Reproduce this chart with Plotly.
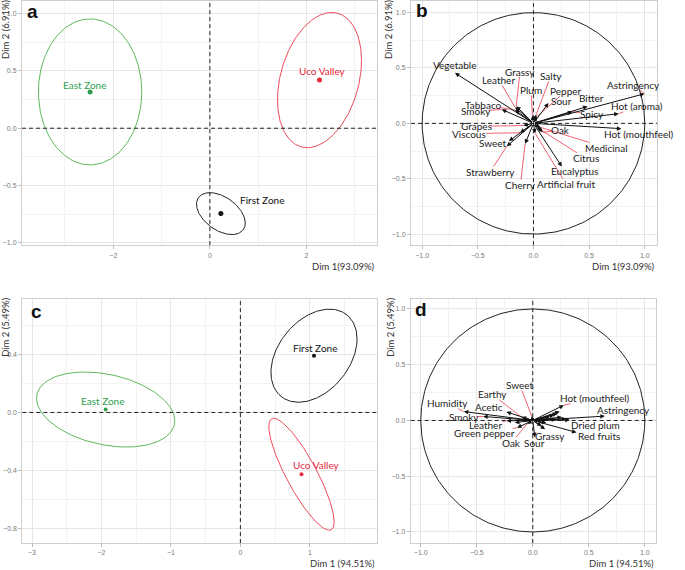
import numpy as np
import plotly.graph_objects as go

W, H = 685, 570

# ---------------- data ----------------
groups = ["East Zone", "Uco Valley", "First Zone"]
group_colors = ["#2e9e4f", "#e8283c", "#111111"]
ellipse_colors = ["#5cb85c", "#ec4b5a", "#222222"]

# panel a (individuals, sensory)
a_px = [-2.48, 2.27, 0.228]
a_py = [0.317, 0.42, -0.745]
a_rx = [1.07, 0.87, 0.505]
a_ry = [0.637, 0.59, 0.183]
a_rho = [0.0, 0.29, -0.45]
a_lx = [-2.60, 2.34, 1.08]
a_ly = [0.38, 0.496, -0.626]

# panel c (individuals, chemical)
c_px = [-1.94, 0.88, 1.06]
c_py = [0.02, -0.425, 0.39]
c_rx = [0.995, 0.47, 0.62]
c_ry = [0.258, 0.385, 0.32]
c_rho = [-0.3, -0.85, 0.36]
c_lx = [-1.98, 1.10, 1.08]
c_ly = [0.077, -0.363, 0.444]

# panel b (variables)
b_vars = ["Vegetable", "Grassy", "Leather", "Salty", "Plum", "Pepper", "Sour", "Bitter",
          "Astringency", "Hot (aroma)", "Spicy", "Hot (mouthfeel)", "Oak", "Medicinal",
          "Citrus", "Eucalyptus", "Artificial fruit", "Cherry", "Strawberry", "Sweet",
          "Viscous", "Grapes", "Smoky", "Tabbaco"]
b_x = [-0.705, -0.155, -0.165, 0.025, -0.01, 0.03, 0.135, 0.486,
       0.997, 0.766, 0.35, 0.79, 0.085, 0.06,
       0.075, 0.255, 0.015, -0.075, -0.24, -0.22,
       -0.12, -0.09, -0.285, -0.165]
b_y = [0.456, 0.155, 0.145, 0.08, 0.07, 0.06, 0.183, 0.153,
       0.267, 0.087, 0.105, -0.048, -0.08, -0.035,
       -0.065, -0.39, -0.09, -0.185, -0.207, -0.16,
       -0.085, -0.02, 0.126, 0.12]
b_lx = [-0.706, -0.12, -0.31, 0.156, -0.02, 0.295, 0.25, 0.525,
        0.90, 0.93, 0.53, 0.946, 0.246, 0.66,
        0.468, 0.37, 0.295, -0.117, -0.39, -0.366,
        -0.58, -0.516, -0.516, -0.45]
b_ly = [0.53, 0.468, 0.393, 0.43, 0.30, 0.294, 0.198, 0.228,
        0.35, 0.153, 0.087, -0.096, -0.063, -0.222,
        -0.315, -0.432, -0.55, -0.558, -0.44, -0.177,
        -0.093, -0.027, 0.108, 0.168]

# panel d (variables)
d_vars = ["Humidity", "Smoky", "Acetic", "Earthy", "Sweet", "Leather", "Green pepper",
          "Oak", "Sour", "Grassy", "Red fruits", "Dried plum", "Astringency", "Hot (mouthfeel)"]
d_x = [-0.616, -0.443, -0.235, -0.10, -0.01, -0.235, -0.14,
       -0.05, 0.018, 0.11, 0.39, 0.33, 0.643, 0.277]
d_y = [0.08, 0.036, 0.077, 0.03, 0.04, -0.003, -0.065,
       -0.03, -0.15, -0.078, -0.107, 0.005, 0.039, 0.137]
d_lx = [-0.765, -0.616, -0.39, -0.363, -0.116, -0.423, -0.435,
        -0.19, 0.018, 0.158, 0.592, 0.563, 0.81, 0.553]
d_ly = [0.155, 0.03, 0.125, 0.235, 0.318, -0.039, -0.116,
        -0.2, -0.2, -0.14, -0.14, -0.039, 0.092, 0.2]
# unlabelled variables in panel d
d_ux = [0.24, 0.22, 0.19, 0.26, 0.15, 0.21, 0.12, 0.08, -0.09, -0.16, 0.30]
d_uy = [0.08, 0.065, 0.05, 0.03, 0.03, 0.01, -0.02, -0.05, 0.01, -0.02, 0.015]

# ---------------- layout geometry (pixels) ----------------
panels = {
    "a": dict(x0=22, x1=376.5, y0=0, y1=245, xr=[-3.89, 3.45], yr=[-1.02, 1.11]),
    "b": dict(x0=411, x1=657, y0=0, y1=245, xr=[-1.10, 1.11], yr=[-1.10, 1.105]),
    "c": dict(x0=22.3, x1=376.5, y0=299, y1=544, xr=[-3.14, 1.96], yr=[-0.898, 0.78]),
    "d": dict(x0=410.7, x1=656, y0=299, y1=544, xr=[-1.09, 1.10], yr=[-1.10, 1.09]),
}
axis_ids = {"a": ("x", "y"), "b": ("x2", "y2"), "c": ("x3", "y3"), "d": ("x4", "y4")}

fig = go.Figure()

TICKFONT = dict(family="Liberation Sans, Arial", size=7, color="#7a7a7a")
LABFONT = "Lato, Open Sans, sans-serif"
DASH = "4px,3px"


def ellipse(cx, cy, rx, ry, rho, n=200):
    t = np.linspace(0, 2 * np.pi, n)
    d = np.arccos(rho)
    return cx + rx * np.cos(t), cy + ry * np.cos(t - d)


def add_individuals(key, px, py, rx, ry, rho, lx, ly, msize):
    xa, ya = axis_ids[key]
    for i, g in enumerate(groups):
        ex, ey = ellipse(px[i], py[i], rx[i], ry[i], rho[i])
        fig.add_trace(go.Scatter(x=ex, y=ey, mode="lines", xaxis=xa, yaxis=ya,
                                 line=dict(color=ellipse_colors[i], width=1),
                                 showlegend=False, hoverinfo="skip"))
        fig.add_trace(go.Scatter(x=[px[i]], y=[py[i]], mode="markers", xaxis=xa, yaxis=ya,
                                 marker=dict(color=group_colors[i], size=msize),
                                 showlegend=False))
        fig.add_annotation(x=lx[i], y=ly[i], xref=xa, yref=ya, text=g, showarrow=False,
                           font=dict(family=LABFONT, size=10, color=group_colors[i]))


def clip_to_box(lx, ly, tx, ty, hw, hh):
    dx, dy = tx - lx, ty - ly
    s = 1e9
    if abs(dx) > 1e-9:
        s = min(s, hw / abs(dx))
    if abs(dy) > 1e-9:
        s = min(s, hh / abs(dy))
    return lx + dx * s, ly + dy * s, s


def add_variables(key, names, vx, vy, lx, ly, ux=None, uy=None):
    xa, ya = axis_ids[key]
    p = panels[key]
    ppu = (p["x1"] - p["x0"]) / (p["xr"][1] - p["xr"][0])
    # correlation circle
    t = np.linspace(0, 2 * np.pi, 300)
    fig.add_trace(go.Scatter(x=np.cos(t), y=np.sin(t), mode="lines", xaxis=xa, yaxis=ya,
                             line=dict(color="#222222", width=1), showlegend=False,
                             hoverinfo="skip"))
    # repel segments
    for i, n in enumerate(names):
        hw = (len(n) * 4.6 / 2 + 1) / ppu
        hh = 5.5 / ppu
        ex, ey, s = clip_to_box(lx[i], ly[i], vx[i], vy[i], hw, hh)
        dist = np.hypot(vx[i] - ex, vy[i] - ey) * ppu
        if s < 1 and dist > 4:
            fig.add_trace(go.Scatter(x=[vx[i], ex], y=[vy[i], ey], mode="lines",
                                     xaxis=xa, yaxis=ya,
                                     line=dict(color="#ee3b4e", width=0.8),
                                     showlegend=False, hoverinfo="skip"))
    allx = list(vx) + (list(ux) if ux else [])
    ally = list(vy) + (list(uy) if uy else [])
    for x, y in zip(allx, ally):
        fig.add_annotation(x=x, y=y, ax=0, ay=0, xref=xa, yref=ya, axref=xa, ayref=ya,
                           text="", showarrow=True, arrowhead=2, arrowsize=0.9,
                           arrowwidth=1, arrowcolor="#111111", standoff=0)
    for i, n in enumerate(names):
        fig.add_annotation(x=lx[i], y=ly[i], xref=xa, yref=ya, text=n, showarrow=False,
                           font=dict(family=LABFONT, size=10, color="#222222"))


add_individuals("a", a_px, a_py, a_rx, a_ry, a_rho, a_lx, a_ly, 5)
add_individuals("c", c_px, c_py, c_rx, c_ry, c_rho, c_lx, c_ly, 4)
add_variables("b", b_vars, b_x, b_y, b_lx, b_ly)
add_variables("d", d_vars, d_x, d_y, d_lx, d_ly, d_ux, d_uy)

# axes
ticks = {
    "a": dict(x=(0, 2, 1), y=(0, 0.5, 0.25)),
    "b": dict(x=(0, 0.5, 0.25), y=(0, 0.5, 0.25)),
    "c": dict(x=(0, 1, 0.5), y=(0, 0.4, 0.2)),
    "d": dict(x=(0, 0.5, 0.25), y=(0, 0.5, 0.25)),
}
layout_axes = {}
for k, p in panels.items():
    xa, ya = axis_ids[k]
    xname = "xaxis" + xa[1:]
    yname = "yaxis" + ya[1:]
    tx = ticks[k]["x"]
    ty = ticks[k]["y"]
    common = dict(showgrid=True, gridcolor="#e6e6e6", gridwidth=1, zeroline=False,
                  showline=True, linecolor="#cfcfcf", linewidth=1, mirror=True,
                  ticks="outside", ticklen=3, tickcolor="#bdbdbd", tickfont=TICKFONT,
                  fixedrange=True)
    layout_axes[xname] = dict(common, domain=[p["x0"] / W, p["x1"] / W], range=p["xr"],
                              anchor=ya, tick0=tx[0], dtick=tx[1],
                              minor=dict(dtick=tx[2], tick0=tx[0], showgrid=True,
                                         gridcolor="#f3f3f3", ticks=""),
                              tickformat=".1f" if k in "bd" else "")
    layout_axes[yname] = dict(common, domain=[1 - p["y1"] / H, 1 - p["y0"] / H],
                              range=p["yr"], anchor=xa, tick0=ty[0], dtick=ty[1],
                              minor=dict(dtick=ty[2], tick0=ty[0], showgrid=True,
                                         gridcolor="#f3f3f3", ticks=""),
                              tickformat=".1f")
    # dashed zero lines
    fig.add_shape(type="line", xref=xa + " domain", yref=ya, x0=0, x1=1, y0=0, y1=0,
                  line=dict(color="#222222", width=1, dash=DASH))
    fig.add_shape(type="line", xref=xa, yref=ya + " domain", x0=0, x1=0, y0=0, y1=1,
                  line=dict(color="#222222", width=1, dash=DASH))

fig.update_layout(**layout_axes)

# panel letters
letters = {"a": (32.5, 11), "b": (422, 10), "c": (36, 311.5), "d": (421, 310)}
for k, (x, y) in letters.items():
    fig.add_annotation(x=x / W, y=1 - y / H, xref="paper", yref="paper", text="<b>%s</b>" % k,
                       showarrow=False, xanchor="center", yanchor="middle",
                       font=dict(family="Liberation Sans, Arial", size=19, color="#111111"))

# axis titles
TITLEFONT = dict(family=LABFONT, size=9.5, color="#333333")
xtitles = [("Dim 1(93.09%)", 376.5, 266), ("Dim 1(93.09%)", 657, 266),
           ("Dim 1 (94.51%)", 376.5, 564), ("Dim 1 (94.51%)", 656, 564)]
for txt, x, y in xtitles:
    fig.add_annotation(x=x / W, y=1 - y / H, xref="paper", yref="paper", text=txt,
                       showarrow=False, xanchor="right", yanchor="middle", font=TITLEFONT)
ytitles = [("Dim 2 (6.91%)", 6, 28), ("Dim 2 (6.91%)", 389, 28),
           ("Dim 2 (5.49%)", 6, 327), ("Dim 2 (5.49%)", 391, 327)]
for txt, x, y in ytitles:
    fig.add_annotation(x=x / W, y=1 - y / H, xref="paper", yref="paper", text=txt,
                       showarrow=False, textangle=-90, xanchor="center", yanchor="middle",
                       font=TITLEFONT)

fig.update_layout(width=W, height=H, margin=dict(l=0, r=0, t=0, b=0),
                  paper_bgcolor="white", plot_bgcolor="white", showlegend=False)

fig.write_html("out.html", config={"displayModeBar": False, "staticPlot": True},
               post_script="document.body.style.margin='0px';document.body.style.padding='0px';")
